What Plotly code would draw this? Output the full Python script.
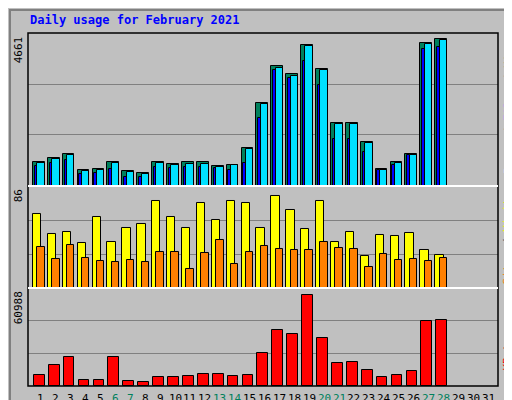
import plotly.graph_objects as go

# values (February 2021)
jours = list(range(1, 29))
hits = [770, 897, 1023, 517, 549, 770, 485, 422, 770, 707, 770, 770, 643, 675, 1213, 2637, 3808, 3555, 4483, 3713, 2004, 2004, 1403, 549, 770, 1023, 4536, 4661]
pages = [740, 866, 992, 486, 518, 740, 454, 390, 740, 676, 708, 708, 612, 675, 1182, 2605, 3745, 3492, 4450, 3680, 1972, 1972, 1371, 517, 740, 992, 4504, 4630]
files = [633, 738, 812, 369, 401, 527, 295, 274, 612, 580, 612, 612, 580, 517, 738, 2162, 3681, 3428, 3976, 3207, 1498, 1498, 1086, 496, 675, 970, 4356, 4409]
visites = [69, 50, 52, 42, 66, 43, 56, 60, 81, 66, 56, 79, 63, 81, 79, 56, 86, 73, 55, 81, 43, 52, 30, 49, 48, 51, 35, 31]
sites = [38, 27, 40, 28, 25, 24, 26, 24, 34, 34, 18, 33, 45, 22, 34, 39, 36, 35, 35, 43, 37, 36, 20, 32, 26, 27, 25, 28]
kbytes = [7568, 14246, 19589, 4229, 4229, 19589, 3562, 2894, 6233, 6233, 6901, 8236, 8236, 6901, 7568, 22260, 37619, 34948, 60988, 32277, 15582, 16250, 10907, 6233, 7568, 10240, 43630, 44297]
etiquettes = [str(j) for j in range(1, 32)]
weekend = [6, 7, 13, 14, 20, 21, 27, 28]

police = "DejaVu Sans Mono"
fig = go.Figure()

def barres(y, couleur, offset, largeur, axe):
    fig.add_trace(go.Bar(x=jours, y=y, offset=offset, width=largeur, marker_color=couleur,
                         marker_line_color="black", marker_line_width=1,
                         xaxis="x", yaxis=axe, showlegend=False, hoverinfo="skip"))

barres(hits, "#00805c", -0.54, 0.79, "y")
barres(files, "#0000ff", -0.42, 0.17, "y")
barres(pages, "#00e0ff", -0.25, 0.5, "y")
barres(visites, "#ffff00", -0.54, 0.56, "y2")
barres(sites, "#ff8000", -0.25, 0.5, "y2")
barres(kbytes, "#ff0000", -0.47, 0.72, "y3")

def axe_y(domaine, maxi, hauteur):
    haut = maxi * hauteur
    return dict(domain=domaine, range=[0, haut], tickvals=[haut / 3, haut * 2 / 3],
                showticklabels=False, gridcolor="#808080", gridwidth=1,
                zeroline=False, fixedrange=True)

fig.update_layout(
    width=512, height=400,
    margin=dict(l=20, r=22, t=25, b=22, autoexpand=False),
    paper_bgcolor="#c0c0c0", plot_bgcolor="#c0c0c0",
    barmode="overlay", bargap=0,
    xaxis=dict(range=[0.13, 31.67], showticklabels=False, showgrid=False,
               zeroline=False, fixedrange=True),
    yaxis=axe_y([0.5666, 1], 4661, 1.041),
    yaxis2=axe_y([0.2776, 0.5666], 86, 1.105),
    yaxis3=axe_y([0, 0.2776], 60988, 1.073),
)

# cadres
fig.add_shape(type="rect", xref="paper", yref="paper", x0=0, x1=1, y0=0, y1=1,
              line=dict(color="black", width=1.5))
for y in [0.2776, 0.5666]:
    fig.add_shape(type="line", xref="paper", yref="paper", x0=0, x1=1, y0=y, y1=y,
                  line=dict(color="white", width=2))
fig.add_shape(type="rect", xref="paper", yref="paper", x0=-0.0383, x1=1.04, y0=-0.054, y1=1.065,
              line=dict(color="#808080", width=2))

fig.add_annotation(text="<b>Daily usage for February 2021</b>", xref="paper", yref="paper",
                   x=0, y=1.012, xanchor="left", yanchor="bottom", showarrow=False,
                   font=dict(family=police, size=12, color="#0000ff"))

for texte, y in [("4661", 1), ("86", 0.5666), ("60988", 0.2776)]:
    fig.add_annotation(text=texte, xref="paper", yref="paper", x=-0.003, y=y - 0.005,
                       xanchor="right", yanchor="top", textangle=-90, showarrow=False,
                       font=dict(family=police, size=11, color="black"))

cotes = [
    ('<span style="color:#00e0ff">Pages</span> / <span style="color:#0000ff">Files</span> / <span style="color:#00805c">Hits</span>', 0.79),
    ('<span style="color:#ff8000">Sites</span> / <span style="color:#ffff00">Visits</span>', 0.42),
    ('<span style="color:#ff0000">KBytes</span>', 0.1),
]
for texte, y in cotes:
    fig.add_annotation(text=texte, xref="paper", yref="paper", x=1.003, y=y,
                       xanchor="left", yanchor="middle", textangle=-90, showarrow=False,
                       font=dict(family=police, size=11))

for i, t in enumerate(etiquettes):
    fig.add_annotation(text=t, x=i + 1, xref="x", yref="paper", y=-0.012, yanchor="top",
                       showarrow=False,
                       font=dict(family=police, size=11,
                                 color="#00805c" if (i + 1) in weekend else "black"))

fig.write_html("out.html")
